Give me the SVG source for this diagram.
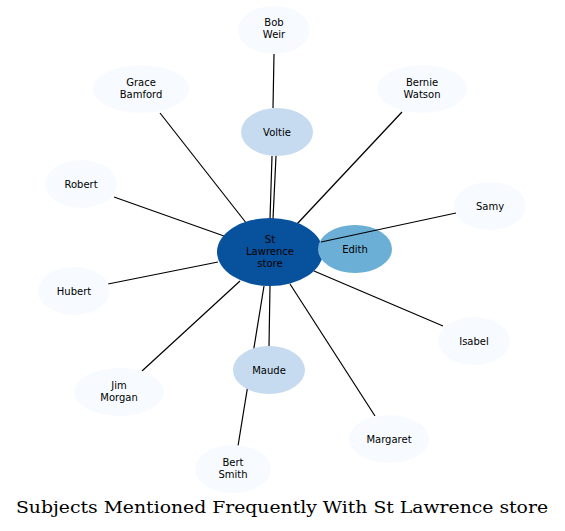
<svg xmlns="http://www.w3.org/2000/svg" width="565" height="531" viewBox="0 0 565 531">
<style>
.n text{font-family:"DejaVu Sans",sans-serif;font-size:10px;text-anchor:middle;fill:#000}
.l0{fill:#f7fbff}.l1{fill:#c6dbef}.l2{fill:#6baed6}.l3{fill:#08519c}
#edges line{stroke:#000;stroke-width:1.2}
.title{font-family:"DejaVu Serif",serif;font-size:17px;fill:#000}
</style>
<rect width="565" height="531" fill="#fff"/>
<g id="edges">
<line x1="274" y1="54" x2="273" y2="108"/>
<line x1="272" y1="156" x2="270" y2="219"/>
<line x1="276" y1="156" x2="273" y2="219"/>
<line x1="160" y1="113" x2="247" y2="224"/>
<line x1="402" y1="112" x2="297" y2="224"/>
<line x1="114" y1="197" x2="224" y2="236"/>
<line x1="108" y1="284" x2="218" y2="262"/>
<line x1="443" y1="326" x2="314" y2="271"/>
<line x1="142" y1="371" x2="240" y2="281"/>
<line x1="375" y1="416" x2="290" y2="284"/>
<line x1="269" y1="346" x2="270" y2="286"/>
<line x1="238" y1="446" x2="264" y2="286"/>
</g>
<g id="bobweir" class="n"><ellipse class="l0" cx="274" cy="30" rx="36" ry="24"/><text x="274" y="26">Bob</text><text x="274" y="38">Weir</text></g>
<g id="grace" class="n"><ellipse class="l0" cx="141" cy="89" rx="48" ry="24"/><text x="141" y="86">Grace</text><text x="141" y="98">Bamford</text></g>
<g id="bernie" class="n"><ellipse class="l0" cx="422" cy="89" rx="45" ry="24"/><text x="422" y="86">Bernie</text><text x="422" y="98">Watson</text></g>
<g id="robert" class="n"><ellipse class="l0" cx="81" cy="184" rx="36" ry="24"/><text x="81" y="188">Robert</text></g>
<g id="samy" class="n"><ellipse class="l0" cx="490" cy="206" rx="36" ry="24"/><text x="490" y="210">Samy</text></g>
<g id="hubert" class="n"><ellipse class="l0" cx="74" cy="291" rx="36" ry="24"/><text x="74" y="295">Hubert</text></g>
<g id="isabel" class="n"><ellipse class="l0" cx="474" cy="341" rx="36" ry="24"/><text x="474" y="345">Isabel</text></g>
<g id="jim" class="n"><ellipse class="l0" cx="119" cy="392" rx="45" ry="24"/><text x="119" y="389">Jim</text><text x="119" y="401">Morgan</text></g>
<g id="margaret" class="n"><ellipse class="l0" cx="389" cy="439" rx="40" ry="24"/><text x="389" y="443">Margaret</text></g>
<g id="bert" class="n"><ellipse class="l0" cx="233" cy="469" rx="38" ry="24"/><text x="233" y="466">Bert</text><text x="233" y="478">Smith</text></g>
<g id="voltie" class="n"><ellipse class="l1" cx="277" cy="132" rx="36" ry="24"/><text x="277" y="136">Voltie</text></g>
<g id="maude" class="n"><ellipse class="l1" cx="269" cy="370" rx="36" ry="24"/><text x="269" y="374">Maude</text></g>
<g id="stlawrence" class="n"><ellipse class="l3" cx="270" cy="252" rx="53" ry="34"/><text x="270" y="243">St</text><text x="270" y="255">Lawrence</text><text x="270" y="267">store</text></g>
<g id="edith" class="n"><ellipse class="l2" cx="355" cy="249" rx="37" ry="24"/><text x="355" y="253">Edith</text></g>
<g id="edges2"><line x1="456" y1="213" x2="321" y2="242" stroke="#000" stroke-width="1.2"/></g>
<text class="title" x="16" y="513" textLength="532" lengthAdjust="spacingAndGlyphs">Subjects Mentioned Frequently With St Lawrence store</text>
</svg>
